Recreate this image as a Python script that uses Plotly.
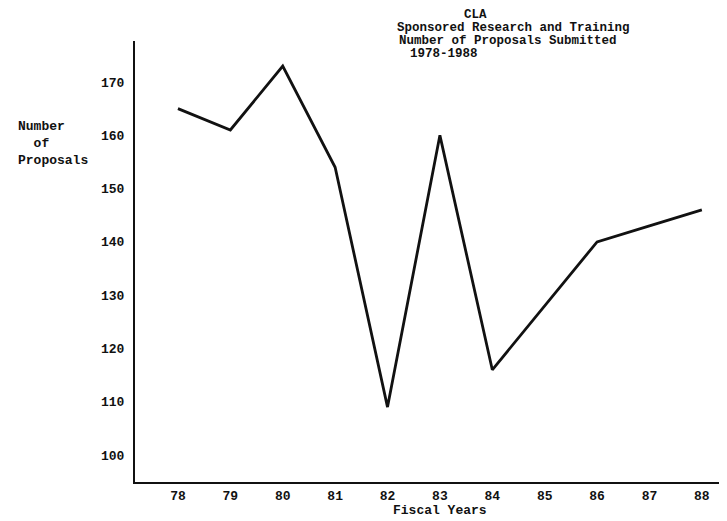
import plotly.graph_objects as go

years = [78, 79, 80, 81, 82, 83, 84, 85, 86, 87, 88]
proposals = [165, 161, 173, 154, 109, 160, 116, 128, 140, 143, 146]
y_ticks = [100, 110, 120, 130, 140, 150, 160, 170]
title_lines = ["CLA", "Sponsored Research and Training",
               "Number of Proposals Submitted", "1978-1988"]
y_title_lines = ["Number", "\u00a0\u00a0of", "Proposals"]
x_title = "Fiscal Years"

# page body has an 8px default margin; work in screen pixels and offset
OFF = 8
W, H = 727 - OFF, 521 - OFF
L, R, T, B = 135 - OFF, 0, 41 - OFF, 39
PW, PH = W - L - R, H - T - B

def px(x):
    return (x - OFF - L) / PW

def py(y):
    return (H - B - (y - OFF)) / PH

FONT = "Liberation Mono"
ink = "#111111"

fig = go.Figure()
fig.add_trace(go.Scatter(x=years, y=proposals, mode="lines",
                         line=dict(color=ink, width=2.8), showlegend=False))

fig.update_layout(
    width=W, height=H,
    margin=dict(l=L, r=R, t=T, b=B),
    paper_bgcolor="white", plot_bgcolor="white",
    font=dict(family=FONT, size=13, color=ink),
    xaxis=dict(range=[77.18, 88.48], tickvals=years,
               ticktext=[f"<b>{y}</b>" for y in years],
               showgrid=False, zeroline=False, showline=True,
               linecolor=ink, linewidth=2, ticks="", ticklabelstandoff=0),
    yaxis=dict(range=[94.94, 177.7], tickvals=y_ticks,
               ticktext=[f"<b>{v}</b>" for v in y_ticks],
               showgrid=False, zeroline=False, showline=True,
               linecolor=ink, linewidth=2, ticks="", ticklabelstandoff=6),
)

title_pos = [(462, 15), (395, 28), (397, 41), (408, 54)]
for text, (x0, y0) in zip(title_lines, title_pos):
    fig.add_annotation(text=f"<b>{text}</b>", xref="paper", yref="paper",
                       x=px(x0), y=py(y0), xanchor="left", yanchor="middle",
                       showarrow=False, font=dict(size=12.5))

ylab_pos = [(16, 126), (16, 143), (16, 160)]
for text, (x0, y0) in zip(y_title_lines, ylab_pos):
    fig.add_annotation(text=f"<b>{text}</b>", xref="paper", yref="paper",
                       x=px(x0), y=py(y0), xanchor="left", yanchor="middle",
                       showarrow=False, font=dict(size=13))

fig.add_annotation(text=f"<b>{x_title}</b>", xref="paper", yref="paper",
                   x=px(440), y=py(511), xanchor="center", yanchor="middle",
                   showarrow=False, font=dict(size=13))

fig.write_html("out.html")
